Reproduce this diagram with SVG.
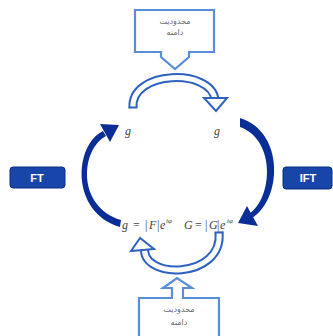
<svg xmlns="http://www.w3.org/2000/svg" width="333" height="336" viewBox="0 0 333 336">
<style>
.call{fill:#ffffff;stroke:#5a8ed8;stroke-width:2.2;stroke-linejoin:miter}
.fa{font-family:"Noto Sans","DejaVu Sans",sans-serif;font-size:8px;fill:#666;text-anchor:middle}
.btn{fill:#1746a8;stroke:#0d2f86;stroke-width:1}
.bt{font-family:"Liberation Sans",Arial,sans-serif;font-size:11px;font-weight:bold;fill:#fff;text-anchor:middle}
.math{font-family:"Liberation Serif","Times New Roman",serif;font-size:12px;fill:#444}
.it{font-style:italic}
.dark{fill:#0b2d96}
.hol{fill:none;stroke:#2f62c0;stroke-width:9}
.holi{fill:none;stroke:#fff;stroke-width:5}
.cap{stroke:#2f62c0;stroke-width:2}
.head{fill:#fff;stroke:#2f62c0;stroke-width:2;stroke-linejoin:miter}
</style>
<rect width="333" height="336" fill="#ffffff"/>
<g id="connectors">
  <!-- top hollow arc -->
  <path class="hol" d="M 133 108 C 130 70, 212 68, 215 100"/>
  <path class="holi" d="M 133 108 C 130 70, 212 68, 215 100"/>
  <line class="cap" x1="128.5" y1="107.5" x2="137.5" y2="107.5"/>
  <polygon class="head" points="204,98 227,98 216,111"/>
  <!-- left dark arc -->
  <path class="dark" d="M 120 227 C 70 212, 74 145, 103 131 L 106 136 C 80 150, 77 207, 121 220 Z"/>
  <polygon class="dark" points="119,125 100,124 110,142"/>
  <!-- right dark arc -->
  <path class="dark" d="M 240 118 C 285 132, 282 200, 252 218 L 249 214 C 273 198, 276 140, 240 127 Z"/>
  <polygon class="dark" points="238,223 258,226 247,206"/>
  <!-- bottom hollow arc -->
  <path class="hol" d="M 219 232 C 224 280, 138 280, 145 246"/>
  <path class="holi" d="M 219 232 C 224 280, 138 280, 145 246"/>
  <line class="cap" x1="214.5" y1="232.5" x2="223.5" y2="232.5"/>
  <polygon class="head" points="140,238 131,251 154,249"/>
</g>
<g id="top-callout">
  <path class="call" d="M 135 10 H 214 V 52 H 189 V 57 L 175 69 L 161 57 V 52 H 135 Z"/>
  <text class="fa" x="175" y="24">محدودیت</text>
  <text class="fa" x="175" y="35">دامنه</text>
</g>
<g id="bottom-callout">
  <path class="call" d="M 139 298 H 172 V 288 H 163 L 177 278 L 192 288 H 183 V 298 H 219 V 338 H 139 Z"/>
  <text class="fa" x="179" y="312">محدودیت</text>
  <text class="fa" x="179" y="325">دامنه</text>
</g>
<g id="g-left">
  <text class="math it" x="125" y="135">g</text>
</g>
<g id="g-right">
  <text class="math it" x="214" y="135">g</text>
</g>
<g id="formula">
  <text class="math" y="229"><tspan class="it" x="122">g</tspan><tspan x="133">=</tspan><tspan x="145">|</tspan><tspan class="it" x="149">F</tspan><tspan x="157">|</tspan><tspan class="it" x="160">e</tspan><tspan class="it" x="166" y="223" font-size="7">iφ</tspan><tspan class="it" x="184" y="229">G</tspan><tspan x="195">=</tspan><tspan x="205">|</tspan><tspan class="it" x="209">G</tspan><tspan x="217">|</tspan><tspan class="it" x="220">e</tspan><tspan class="it" x="227" y="223" font-size="7">iφ</tspan></text>
</g>
<g id="ft">
  <rect class="btn" x="10" y="167" width="55" height="21" rx="3"/>
  <text class="bt" x="37" y="182">FT</text>
</g>
<g id="ift">
  <rect class="btn" x="283" y="167" width="49" height="22" rx="3"/>
  <text class="bt" x="308" y="182">IFT</text>
</g>
</svg>
